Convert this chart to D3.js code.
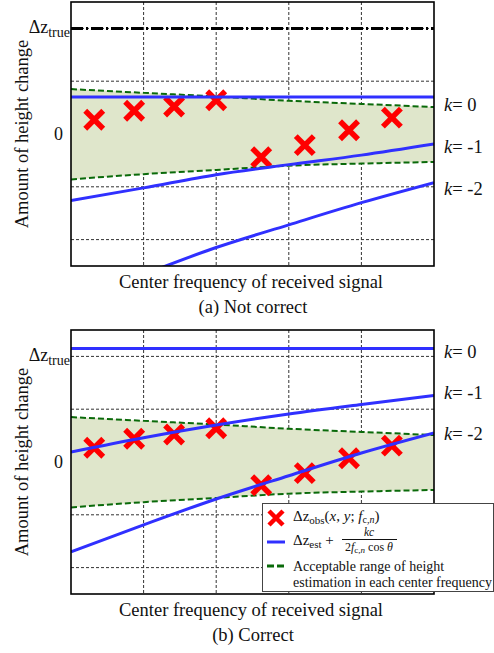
<!DOCTYPE html>
<html>
<head>
<meta charset="utf-8">
<script src="https://cdn.jsdelivr.net/npm/d3@7"></script>
<style>
    body { margin: 0; background: #fff; }
    svg { display: block; }
    text { fill: #111; }
</style>
</head>
<body>
<svg id="chart" width="494" height="653" font-family="'Liberation Serif', 'DejaVu Serif', serif"></svg>
<script>
    // grid units along the centre-frequency axis (no tick labels in the figure)
    const lineFreq = [0, 1, 2, 3, 4, 5];
    const obsFreq = [0.32, 0.87, 1.42, 2.0, 2.62, 3.22, 3.83, 4.42];
    const obsHeight = [0.27, 0.44, 0.52, 0.64, -0.44, -0.21, 0.07, 0.31];

    // acceptable range of the estimate
    const upperBound = [0.85, 0.78, 0.71, 0.63, 0.57, 0.51];
    const lowerBound = [-0.86, -0.76, -0.68, -0.60, -0.56, -0.53];

    // (a) not correct
    const notCorrectK0 = [0.70, 0.70, 0.70, 0.70, 0.70, 0.70];
    const notCorrectK1 = [-1.26, -1.02, -0.77, -0.58, -0.40, -0.19];
    const notCorrectK2 = [-3.2, -2.66, -2.15, -1.72, -1.30, -0.92];
    const notCorrectLabelY = [0.55, -0.25, -1.04];

    // (b) correct
    const correctK0 = [2.15, 2.15, 2.15, 2.15, 2.15, 2.15];
    const correctK1 = [0.19, 0.46, 0.70, 0.91, 1.09, 1.26];
    const correctK2 = [-1.70, -1.19, -0.70, -0.26, 0.17, 0.55];
    const correctLabelY = [2.09, 1.30, 0.53];

    const kLabels = ['0', '-1', '-2'];
    const trueHeight = 2;
    const yGrid = [-2, -1, 0, 1, 2];
    const xGrid = [1, 2, 3, 4];

    const BLUE = '#3030ff';
    const GREEN = '#0a6a0a';
    const RED = '#ff0000';
    const FILL = '#dfe6cb';

    const svg = d3.select('#chart');
    const x = d3.scaleLinear().domain([0, 5]).range([71, 434]);

    function drawPanel(top, id, lines, labelY, showTrueLine, caption) {
        const height = 264;
        const y = d3.scaleLinear().domain([-2.5, 2.5]).range([top + height, top]);
        const g = svg.append('g');

        g.append('clipPath').attr('id', id)
            .append('rect')
            .attr('x', x(0)).attr('y', top)
            .attr('width', x(5) - x(0)).attr('height', height);

        const plot = g.append('g').attr('clip-path', `url(#${id})`);

        // grid
        plot.selectAll('line.vgrid').data(xGrid).join('line')
            .attr('x1', d => x(d)).attr('x2', d => x(d))
            .attr('y1', top).attr('y2', top + height)
            .attr('stroke', '#333').attr('stroke-width', 1).attr('stroke-dasharray', '3,2');
        plot.selectAll('line.hgrid').data(yGrid).join('line')
            .attr('x1', x(0)).attr('x2', x(5))
            .attr('y1', d => y(d)).attr('y2', d => y(d))
            .attr('stroke', '#333').attr('stroke-width', 1).attr('stroke-dasharray', '3,2');

        // acceptable range
        const band = lineFreq.map((f, i) => ({f, lo: lowerBound[i], hi: upperBound[i]}));
        plot.append('path').datum(band)
            .attr('fill', FILL)
            .attr('d', d3.area().curve(d3.curveMonotoneX)
                .x(d => x(d.f)).y0(d => y(d.lo)).y1(d => y(d.hi)));

        const curve = d3.line().curve(d3.curveMonotoneX).x(d => x(d[0])).y(d => y(d[1]));
        [upperBound, lowerBound].forEach(b => {
            plot.append('path').datum(d3.zip(lineFreq, b))
                .attr('fill', 'none').attr('stroke', GREEN)
                .attr('stroke-width', 2).attr('stroke-dasharray', '6,3')
                .attr('d', curve);
        });

        // observations
        plot.selectAll('path.obs').data(d3.zip(obsFreq, obsHeight)).join('path')
            .attr('transform', d => `translate(${x(d[0])},${y(d[1])})`)
            .attr('d', 'M-9,-9L9,9M-9,9L9,-9')
            .attr('stroke', RED).attr('stroke-width', 5.5);

        // estimate + k c / (2 f cos θ)
        lines.forEach(vals => {
            plot.append('path').datum(d3.zip(lineFreq, vals))
                .attr('fill', 'none').attr('stroke', BLUE).attr('stroke-width', 3)
                .attr('d', curve);
        });

        if (showTrueLine) {
            plot.append('line')
                .attr('x1', x(0)).attr('x2', x(5))
                .attr('y1', y(trueHeight)).attr('y2', y(trueHeight))
                .attr('stroke', '#000').attr('stroke-width', 3)
                .attr('stroke-dasharray', '12,3,2,3');
        }

        // frame
        g.append('rect')
            .attr('x', x(0)).attr('y', top)
            .attr('width', x(5) - x(0)).attr('height', height)
            .attr('fill', 'none').attr('stroke', '#000').attr('stroke-width', 1.6);

        // y tick labels
        const tl = g.append('text')
            .attr('x', 70).attr('y', y(trueHeight) + 5)
            .attr('text-anchor', 'end').attr('font-size', 18);
        tl.append('tspan').text('Δz');
        tl.append('tspan').attr('dy', 4).attr('font-size', 14).text('true');
        g.append('text')
            .attr('x', 63).attr('y', y(0) + 6)
            .attr('text-anchor', 'end').attr('font-size', 18).text('0');

        // k labels
        labelY.forEach((v, i) => {
            const t = g.append('text')
                .attr('x', 444).attr('y', y(v) + 6).attr('font-size', 18.5);
            t.append('tspan').attr('font-style', 'italic').text('k');
            t.append('tspan').text('= ' + kLabels[i]);
        });

        // axis titles
        g.append('text')
            .attr('transform', `translate(28,${top + height / 2}) rotate(-90)`)
            .attr('text-anchor', 'middle').attr('font-size', 18.5)
            .text('Amount of height change');
        g.append('text')
            .attr('x', 251).attr('y', top + height + 22)
            .attr('text-anchor', 'middle').attr('font-size', 18.5)
            .text('Center frequency of received signal');
        g.append('text')
            .attr('x', 253).attr('y', top + height + 47)
            .attr('text-anchor', 'middle').attr('font-size', 18.5)
            .text(caption);
    }

    drawPanel(2, 'clipA', [notCorrectK0, notCorrectK1, notCorrectK2], notCorrectLabelY, true, '(a) Not correct');
    drawPanel(330, 'clipB', [correctK0, correctK1, correctK2], correctLabelY, false, '(b) Correct');

    // legend
    const lg = svg.append('g');
    lg.append('rect')
        .attr('x', 262.5).attr('y', 503.5).attr('width', 231).attr('height', 88)
        .attr('fill', '#fff').attr('stroke', '#444').attr('stroke-width', 1);

    lg.append('path')
        .attr('transform', 'translate(276,518)')
        .attr('d', 'M-7,-7L7,7M-7,7L7,-7')
        .attr('stroke', RED).attr('stroke-width', 4.5);
    const t1 = lg.append('text').attr('x', 293).attr('y', 521).attr('font-size', 15);
    t1.append('tspan').text('Δz');
    t1.append('tspan').attr('dy', 3).attr('font-size', 11).text('obs');
    t1.append('tspan').attr('dy', -3).text('(');
    t1.append('tspan').attr('font-style', 'italic').text('x');
    t1.append('tspan').text(', ');
    t1.append('tspan').attr('font-style', 'italic').text('y');
    t1.append('tspan').text('; ');
    t1.append('tspan').attr('font-style', 'italic').text('f');
    t1.append('tspan').attr('dy', 2).attr('font-size', 10).text('c,');
    t1.append('tspan').attr('font-size', 10).attr('font-style', 'italic').text('n');
    t1.append('tspan').attr('dy', -2).text(')');

    lg.append('line')
        .attr('x1', 267).attr('x2', 285).attr('y1', 542).attr('y2', 542)
        .attr('stroke', BLUE).attr('stroke-width', 3);
    const t2 = lg.append('text').attr('x', 293).attr('y', 545).attr('font-size', 15);
    t2.append('tspan').text('Δz');
    t2.append('tspan').attr('dy', 3).attr('font-size', 11).text('est');
    t2.append('tspan').attr('dy', -3).text(' +');
    lg.append('text').attr('x', 369).attr('y', 536)
        .attr('text-anchor', 'middle').attr('font-size', 11.5).attr('font-style', 'italic')
        .text('kc');
    lg.append('line')
        .attr('x1', 342).attr('x2', 397).attr('y1', 539.5).attr('y2', 539.5)
        .attr('stroke', '#111').attr('stroke-width', 1.2);
    const t3 = lg.append('text').attr('x', 369).attr('y', 551)
        .attr('text-anchor', 'middle').attr('font-size', 12);
    t3.append('tspan').text('2');
    t3.append('tspan').attr('font-style', 'italic').text('f');
    t3.append('tspan').attr('dy', 2).attr('font-size', 9).text('c,');
    t3.append('tspan').attr('font-size', 9).attr('font-style', 'italic').text('n');
    t3.append('tspan').attr('dy', -2).text(' cos ');
    t3.append('tspan').attr('font-style', 'italic').text('θ');

    lg.append('line')
        .attr('x1', 267).attr('x2', 285).attr('y1', 566).attr('y2', 566)
        .attr('stroke', GREEN).attr('stroke-width', 3).attr('stroke-dasharray', '7,3');
    lg.append('text').attr('x', 293).attr('y', 571).attr('font-size', 14)
        .text('Acceptable range of height');
    lg.append('text').attr('x', 293).attr('y', 587).attr('font-size', 14)
        .text('estimation in each center frequency');
</script>
</body>
</html>
